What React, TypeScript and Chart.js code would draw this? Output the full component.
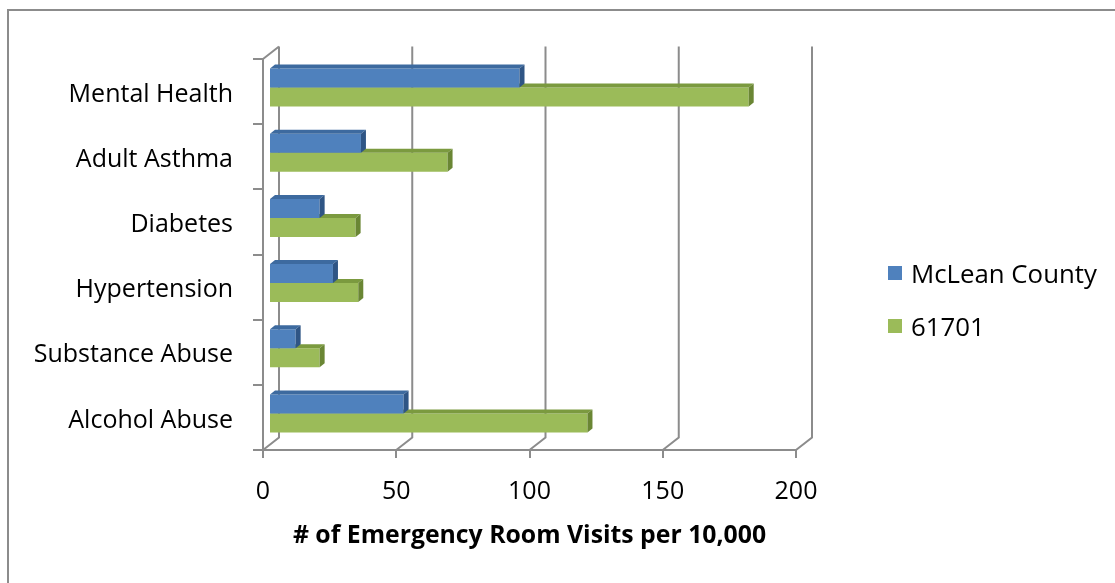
import React, { useEffect, useRef } from "react";
import { Chart, registerables } from "chart.js";

Chart.register(...registerables);

const categories = ["Mental Health", "Adult Asthma", "Diabetes", "Hypertension", "Substance Abuse", "Alcohol Abuse"];
const mcleanCounty = [94, 34.5, 19, 24, 10, 50.5];
const zip61701 = [180, 67, 32.5, 33.5, 19, 119.5];
const xTicks = [0, 50, 100, 150, 200];
const seriesNames = ["McLean County", "61701"];
const xTitle = "# of Emergency Room Visits per 10,000";

const FONT = "'Open Sans', sans-serif";
const BLUE = "#4f81bd";
const GREEN = "#9bbb59";
const FACES = [
  { top: "#3d6a9f", side: "#2f5585" },
  { top: "#7b9a3f", side: "#6a8634" },
];
const GRID = "#8c8c8c";
const BAR_SHIFT = { x: 6, y: -4 };
const BAR_DEPTH = { x: 5, y: -4 };
const WALL_DEPTH = { x: 16, y: -12.5 };

const plot3d = {
  id: "plot3d",
  beforeDatasetsDraw(chart: any) {
    const { ctx, chartArea, scales } = chart;
    const xs = scales.x;
    ctx.save();
    ctx.strokeStyle = GRID;
    ctx.lineWidth = 2;
    ctx.beginPath();
    for (const v of xTicks) {
      const px = xs.getPixelForValue(v);
      ctx.moveTo(px, chartArea.bottom);
      ctx.lineTo(px + WALL_DEPTH.x, chartArea.bottom + WALL_DEPTH.y);
      ctx.lineTo(px + WALL_DEPTH.x, chartArea.top + WALL_DEPTH.y);
    }
    ctx.moveTo(chartArea.left, chartArea.top);
    ctx.lineTo(chartArea.left + WALL_DEPTH.x, chartArea.top + WALL_DEPTH.y);
    ctx.stroke();
    ctx.restore();
    ctx.save();
    ctx.translate(BAR_SHIFT.x, BAR_SHIFT.y);
  },
  afterDatasetDraw(chart: any, args: any) {
    const { ctx } = chart;
    const f = FACES[args.index];
    const dx = BAR_DEPTH.x;
    const dy = BAR_DEPTH.y;
    args.meta.data.forEach((el: any) => {
      const { x, y, base, height } = el.getProps(["x", "y", "base", "height"], true);
      const top = y - height / 2;
      const bot = y + height / 2;
      ctx.fillStyle = f.top;
      ctx.beginPath();
      ctx.moveTo(base, top);
      ctx.lineTo(x, top);
      ctx.lineTo(x + dx, top + dy);
      ctx.lineTo(base + dx, top + dy);
      ctx.closePath();
      ctx.fill();
      ctx.fillStyle = f.side;
      ctx.beginPath();
      ctx.moveTo(x, top);
      ctx.lineTo(x + dx, top + dy);
      ctx.lineTo(x + dx, bot + dy);
      ctx.lineTo(x, bot);
      ctx.closePath();
      ctx.fill();
    });
  },
  afterDatasetsDraw(chart: any) {
    chart.ctx.restore();
  },
};

export default function App() {
  const ref = useRef<HTMLCanvasElement | null>(null);

  useEffect(() => {
    if (!ref.current) return;
    const chart = new Chart(ref.current, {
      type: "bar",
      data: {
        labels: categories,
        datasets: [
          { label: seriesNames[0], data: mcleanCounty, backgroundColor: BLUE, barPercentage: 1, categoryPercentage: 0.583 },
          { label: seriesNames[1], data: zip61701, backgroundColor: GREEN, barPercentage: 1, categoryPercentage: 0.583 },
        ],
      },
      options: {
        indexAxis: "y",
        animation: false,
        responsive: false,
        devicePixelRatio: 1,
        layout: { padding: { left: 0, right: 319, top: 59, bottom: 0 } },
        plugins: { legend: { display: false }, tooltip: { enabled: false }, title: { display: false } },
        scales: {
          x: {
            min: 0,
            max: 200,
            ticks: { stepSize: 50, color: "#000", font: { family: FONT, size: 25 }, padding: 19, maxRotation: 0 },
            grid: { drawOnChartArea: false, drawTicks: true, tickLength: 8, color: GRID, lineWidth: 2 },
            border: { display: true, color: GRID, width: 2 },
            title: {
              display: true,
              text: xTitle,
              color: "#000",
              font: { family: FONT, size: 24.8, weight: "bold" },
              padding: { top: 0, bottom: 32 },
            },
            afterFit: (s: any) => {
              s.height = 133;
            },
          },
          y: {
            ticks: { color: "#000", font: { family: FONT, size: 25 }, padding: 20, labelOffset: 3 },
            grid: { drawOnChartArea: false, drawTicks: true, tickLength: 10, color: GRID, lineWidth: 2, offset: true },
            border: { display: true, color: GRID, width: 2 },
            afterFit: (s: any) => {
              s.width = 263;
            },
          },
        },
      } as any,
      plugins: [plot3d],
    });
    return () => chart.destroy();
  }, []);

  const legendColors = [BLUE, GREEN];
  return (
    <div style={{ position: "fixed", left: 0, top: 0, width: 1115, height: 583, overflow: "hidden", background: "#fff" }}>
      <div
        style={{
          position: "absolute",
          left: 7,
          top: 9,
          width: 1300,
          height: 800,
          borderLeft: `2px solid ${GRID}`,
          borderTop: `2px solid ${GRID}`,
        }}
      />
      <canvas ref={ref} width={1115} height={583} style={{ position: "absolute", left: 0, top: 0, width: 1115, height: 583 }} />
      {seriesNames.map((name, i) => (
        <div
          key={name}
          style={{
            position: "absolute",
            left: 888,
            top: 258 + i * 53,
            height: 30,
            display: "flex",
            alignItems: "center",
            font: `25.8px ${FONT}`,
            color: "#000",
            whiteSpace: "nowrap",
          }}
        >
          <span style={{ display: "inline-block", width: 14, height: 14, background: legendColors[i], marginRight: 9 }} />
          {name}
        </div>
      ))}
    </div>
  );
}
